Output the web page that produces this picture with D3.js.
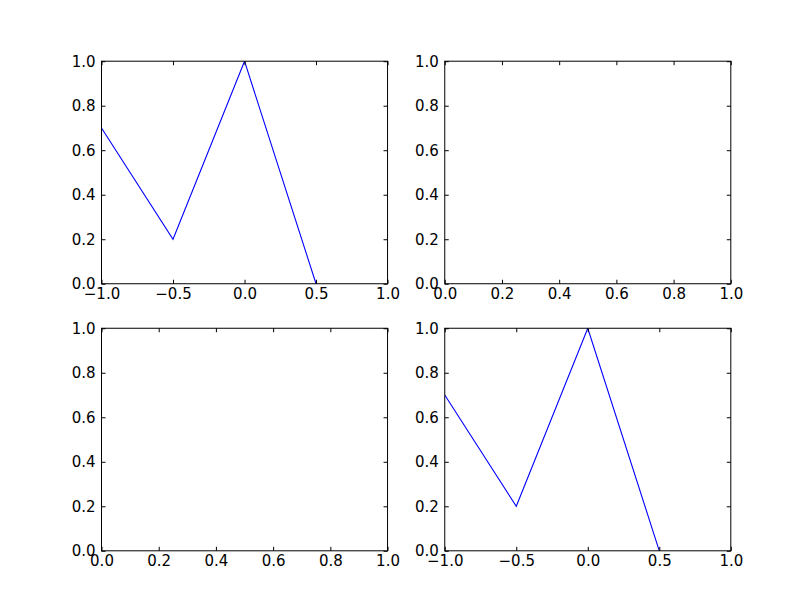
<!DOCTYPE html>
<html>
<head>
<meta charset="utf-8">
<script src="https://cdn.jsdelivr.net/npm/d3@7"></script>
<style>
body { margin: 0; background: #fff; }
text { font-family: "DejaVu Sans", sans-serif; }
</style>
</head>
<body>
<script>
// figure size and subplot layout (2x2 grid)
const width = 812, height = 612;
const padL = 0.125, padR = 0.9, padB = 0.1, padT = 0.9, wspace = 0.2, hspace = 0.2;

// data
const xs = [-1.0, -0.5, 0.0, 0.5];
const ys = [0.7, 0.2, 1.0, 0.0];
const ticks01 = [0, 0.2, 0.4, 0.6, 0.8, 1.0];
const ticksX = [-1.0, -0.5, 0.0, 0.5, 1.0];

const panels = [
  {row: 0, col: 0, xdom: [-1, 1], xt: ticksX, line: true},
  {row: 0, col: 1, xdom: [0, 1], xt: ticks01, line: false},
  {row: 1, col: 0, xdom: [0, 1], xt: ticks01, line: false},
  {row: 1, col: 1, xdom: [-1, 1], xt: ticksX, line: true}
];

const totW = (padR - padL) * width, totH = (padT - padB) * height;
const aw = totW / (2 + wspace), ah = totH / (2 + hspace);

const svg = d3.select("body").append("svg")
    .attr("width", width).attr("height", height);

const fmt = d => d3.format(".1f")(d).replace("-", "\u2212");

panels.forEach(p => {
  const x0 = padL * width + p.col * aw * (1 + wspace);
  const y0 = (1 - padT) * height + p.row * ah * (1 + hspace);

  const x = d3.scaleLinear().domain(p.xdom).range([x0, x0 + aw]);
  const y = d3.scaleLinear().domain([0, 1]).range([y0 + ah, y0]);

  const g = svg.append("g");

  if (p.line) {
    const clipId = "clip" + p.row + p.col;
    g.append("clipPath").attr("id", clipId)
      .append("rect").attr("x", x0).attr("y", y0).attr("width", aw).attr("height", ah);
    g.append("path")
        .datum(xs.map((v, i) => [v, ys[i]]))
        .attr("clip-path", `url(#${clipId})`)
        .attr("fill", "none")
        .attr("stroke", "#0000ff")
        .attr("stroke-width", 1.1)
        .attr("d", d3.line().x(d => x(d[0])).y(d => y(d[1])));
  }

  // inward ticks on all four sides, labels on bottom and left
  const xb = g.append("g").attr("transform", `translate(0,${y0 + ah})`)
      .call(d3.axisBottom(x).tickValues(p.xt).tickSize(-4).tickPadding(5).tickFormat(fmt));
  const xt = g.append("g").attr("transform", `translate(0,${y0})`)
      .call(d3.axisTop(x).tickValues(p.xt).tickSize(-4).tickFormat(""));
  const yl = g.append("g").attr("transform", `translate(${x0},0)`)
      .call(d3.axisLeft(y).tickValues(ticks01).tickSize(-4).tickPadding(6).tickFormat(fmt));
  const yr = g.append("g").attr("transform", `translate(${x0 + aw},0)`)
      .call(d3.axisRight(y).tickValues(ticks01).tickSize(-4).tickFormat(""));

  [xb, xt, yl, yr].forEach(a => {
    a.select(".domain").remove();
    a.selectAll("text").attr("font-size", 15).attr("fill", "#000")
      .style("font-family", "DejaVu Sans");
    a.selectAll("line").attr("stroke", "#000");
  });
  xb.selectAll("text").attr("dy", "0.71em");

  g.append("rect")
      .attr("x", x0).attr("y", y0).attr("width", aw).attr("height", ah)
      .attr("fill", "none").attr("stroke", "#000").attr("stroke-width", 1);
});
</script>
</body>
</html>
